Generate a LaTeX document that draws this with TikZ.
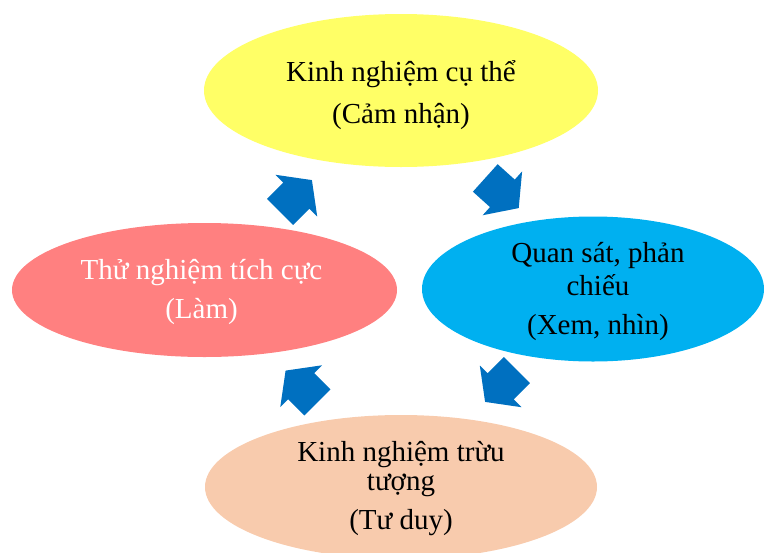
\documentclass[tikz,border=0pt]{standalone}
\usepackage{fontspec}
\setmainfont{Liberation Serif}
\usetikzlibrary{shapes.geometric}

\definecolor{cyclYellow}{RGB}{255,255,102}
\definecolor{cyclBlue}{RGB}{0,176,240}
\definecolor{cyclPink}{RGB}{255,128,128}
\definecolor{cyclPeach}{RGB}{248,203,173}
\definecolor{cyclArrow}{RGB}{0,112,192}

\tikzset{
  stage/.style={ellipse, draw=none, inner sep=0pt},
  lbl/.style={anchor=base, inner sep=0pt, font=\fontsize{29}{35}\selectfont, text=black},
  flow/.style={fill=cyclArrow, draw=none},
}

% block arrow centred on a named coordinate, pointing along the given angle
\newcommand\blockarrow[2]{%
  \fill[flow, shift={(#1)}, rotate=#2]
    (-22.5,-18.5) -- (0.5,-18.5) -- (0.5,-29.5) -- (22.5,0)
    -- (0.5,29.5) -- (0.5,18.5) -- (-22.5,18.5) -- cycle;}

\begin{document}
\begin{tikzpicture}[x=1pt, y=-1pt]
  \useasboundingbox (0,0) rectangle (765,552);

  % the four stages of the cycle
  \node[stage, fill=cyclYellow, minimum width=394pt, minimum height=153pt] (concrete) at (401,90.5) {};
  \node[stage, fill=cyclBlue,   minimum width=342pt, minimum height=145pt] (reflect)  at (593,289) {};
  \node[stage, fill=cyclPeach,  minimum width=392pt, minimum height=144pt] (abstract) at (401,487) {};
  \node[stage, fill=cyclPink,   minimum width=385pt, minimum height=134pt] (active)   at (204.5,290) {};

  % stage texts
  \node[lbl] (concreteA) at (401,81.5) {Kinh nghiệm cụ thể};
  \node[lbl] (concreteB) at (401,123) {(Cảm nhận)};

  \node[lbl] (reflectA) at (598,262) {Quan sát, phản};
  \node[lbl] (reflectB) at (598,295) {chiếu};
  \node[lbl] (reflectC) at (598,334) {(Xem, nhìn)};

  \node[lbl] (abstractA) at (401,461) {Kinh nghiệm trừu};
  \node[lbl] (abstractB) at (401,490) {tượng};
  \node[lbl] (abstractC) at (401,529) {(Tư duy)};

  \node[lbl, text=white] (activeA) at (201.5,279) {Thử nghiệm tích cực};
  \node[lbl, text=white] (activeB) at (201.5,318) {(Làm)};

  % block arrows between the stages
  \coordinate (toConcrete) at (296,196);
  \coordinate (toReflect)  at (502,193);
  \coordinate (toAbstract) at (501,386);
  \coordinate (toActive)   at (301.5,386.5);
  \blockarrow{toConcrete}{45}
  \blockarrow{toReflect}{-42}
  \blockarrow{toAbstract}{-135}
  \blockarrow{toActive}{135}
\end{tikzpicture}
\end{document}
